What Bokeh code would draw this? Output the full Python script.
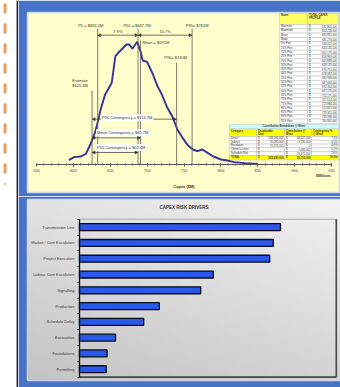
import numpy as np
from bokeh.plotting import figure
from bokeh.layouts import row, column
from bokeh.models import Range1d, Label, Arrow, NormalHead, FixedTicker
from bokeh.core.properties import value
from bokeh.embed import file_html
from bokeh.resources import INLINE

FONT = "Liberation Sans"
BLUE = "#4874c6"
CREAM = "#ffffcc"
INK = "#333333"

# ---------------- Capex simulation results ----------------
capex_m = [594, 601, 610, 617, 623, 630, 637, 643, 647, 652, 657, 664, 672, 676,
           680, 686.5, 691, 694, 700, 708, 714, 720, 727, 734, 741, 748, 755,
           762, 768, 775, 782, 790, 800, 809, 818, 832, 850]
freq_pct = [0.13, 0.22, 0.24, 0.32, 0.60, 1.00, 1.65, 2.10, 2.25, 2.45, 3.25, 3.42,
            3.60, 3.60, 3.47, 3.68, 3.40, 3.12, 3.08, 2.70, 2.35, 2.10, 1.72, 1.45,
            1.05, 0.80, 0.58, 0.45, 0.40, 0.45, 0.35, 0.24, 0.15, 0.12, 0.07, 0.04, 0.02]

estimate_m = 625.3
p5_m, p50_m, mean_m, p90_m, p95_m = 633.0, 687.7, 691.0, 740.0, 761.0
spread_labels = ["7.9%", "10.7%"]
contingency_labels = ["P90 Contingency = $114.7M",
                      "Mean Contingency = $65.7M",
                      "P50 Contingency = $62.4M"]
contingency_targets = [p90_m, mean_m, p50_m]

stat_names = ["Minimum", "Maximum", "Mean", "Mode"] + [f"{q}% Perc" for q in range(5, 100, 5)]
stat_values = [592805000, 854226000, 690961000, 681274000,
               633022000, 644535000, 652175000, 658963000, 663889000, 669131000,
               673752000, 678082000, 682946000, 687663000, 692304000, 697176000,
               702175000, 707514000, 713884000, 720825000, 729351000, 739996000,
               760941000]

breakdown_categories = ["Direct", "Indirect", "Escalation", "Owner's Costs", "Schedule Risk"]
escalatable_cost = [538436000, 31280000, 55574000, None, None]
contribution_mean = [44627000, 3131000, 0, 1481000, 16471000]
contingency_pct = ["7.1%", "0.5%", "0.0%", "0.2%", "2.6%"]
total_cost, total_contribution, total_pct = 625290000, 65710000, "10.5%"

# ---------------- Risk drivers ----------------
drivers = ["Transmission Line", "Market / Cost Escalation", "Project Execution",
           "Labour Cost Escalation", "Signalling", "Production", "Schedule Delay",
           "Excavation", "Foundations", "Permitting"]
impact = [33.5, 32.3, 31.7, 22.3, 20.2, 13.3, 10.7, 6.0, 4.6, 4.45]


def money(v):
    return "" if v is None else f"{v:,.0f}"


# ---------------- left margin strip ----------------
strip = figure(width=18, height=387, x_range=Range1d(0, 18), y_range=Range1d(0, 387),
               x_axis_type=None, y_axis_type=None, min_border=0,
               output_backend="svg", toolbar_location=None,
               background_fill_color="white", border_fill_color="white",
               outline_line_color=None)
strip.grid.visible = False
strip.line(x=[4.5, 4.5], y=[384, 203], line_color="#f39c5a", line_width=3,
           line_dash="10 10")
strip.line(x=[16.8, 16.8], y=[0, 387], line_color="#1c1c1c", line_width=1.4)

# ---------------- top panel: capex distribution ----------------
SX = 0.7375          # px per $M
SY = 0.03            # % per px
x_lo = 550 - 9 / SX
top = figure(width=322, height=196,
             x_range=Range1d(x_lo, x_lo + 313 / SX),
             y_range=Range1d(-28 * SY, 152 * SY),
             y_axis_type=None, output_backend="svg", toolbar_location=None,
             min_border_left=9, min_border_right=0, min_border_top=12,
             min_border_bottom=4, background_fill_color=CREAM,
             border_fill_color=BLUE, outline_line_color="#c9d7ef",
             outline_line_width=1.5)
top.grid.visible = False

ax = top.xaxis[0]
ax.fixed_location = 0
ax.bounds = (550, 950)
ax.ticker = FixedTicker(ticks=list(range(550, 951, 50)),
                        minor_ticks=list(range(550, 951, 10)))
ax.axis_line_color = "#555555"
ax.major_tick_line_color = "#555555"
ax.minor_tick_line_color = "#555555"
ax.major_tick_out = 2
ax.major_tick_in = 1
ax.minor_tick_out = 1
ax.minor_tick_in = 1
ax.major_label_text_font = FONT
ax.major_label_text_font_size = "4px"
ax.major_label_text_color = "#444444"
ax.major_label_standoff = 2
ax.axis_label = "Capex ($M)"
ax.axis_label_text_font = FONT
ax.axis_label_text_font_size = "4px"
ax.axis_label_text_font_style = "bold"
ax.axis_label_text_color = INK
ax.axis_label_standoff = 9


def tx(px):
    return x_lo + (px - 27) / SX


def ty(py):
    return (164 - py) * SY


top.text(x=[tx(323)], y=[ty(175)], text=["$Millions"], text_font=value(FONT),
         text_font_size="3.5px", text_font_style="bold", text_color=INK,
         text_align="center", text_baseline="middle")

# distribution curve
top.line(capex_m, freq_pct, line_color="#333399", line_width=1.9)

# marker lines
marker_x = [estimate_m, p5_m, p50_m, mean_m, p90_m, p95_m]
marker_top = [2.22, 4.07, 4.07, 3.72, 3.06, 4.07]
top.segment(x0=marker_x, y0=[0] * 6, x1=marker_x, y1=marker_top,
            line_color="#5a5a5a", line_width=0.8)

txt = dict(text_font=value(FONT), text_font_size="4px", text_color=INK,
           text_baseline="middle")
top.text(x=[p5_m], y=[4.16], text=["P5 = $633.0M"], x_offset=-7, text_align="center", **txt)
top.text(x=[p50_m], y=[4.16], text=["P50 = $687.7M"], x_offset=-1, text_align="center", **txt)
top.text(x=[p95_m], y=[4.16], text=["P95= $761M"], x_offset=5, text_align="center", **txt)
top.text(x=[mean_m], y=[3.66], text=["Mean = $691M"], x_offset=2, text_align="left", **txt)
top.text(x=[p90_m], y=[3.20], text=["P90= $740M"], x_offset=-1, text_align="center", **txt)
top.text(x=[estimate_m, estimate_m], y=[2.52, 2.38], text=["Estimate", "$625.3M"],
         x_offset=-12, text_align="center", **txt)

head = dict(size=3, line_width=0.5, line_color="#333333", fill_color="#333333")
for a, b in [(p5_m, p50_m), (p50_m, p95_m)]:
    top.add_layout(Arrow(x_start=a, y_start=3.88, x_end=b, y_end=3.88,
                         start=NormalHead(**head), end=NormalHead(**head),
                         line_width=0.7, line_color="#333333"))
top.text(x=[(p5_m + p50_m) / 2, (p50_m + p95_m) / 2], y=[3.93, 3.93],
         text=spread_labels, text_align="center",
         **{**txt, "text_baseline": "bottom"})

cont_y = [1.36, 0.80, 0.36]
cont_dx = [9, 4, 4]
cont_dy = [1.5, 5, 5]
for lab, tgt, h, dx, dy in zip(contingency_labels, contingency_targets, cont_y, cont_dx, cont_dy):
    top.add_layout(Arrow(x_start=estimate_m, y_start=h, x_end=tgt, y_end=h,
                         start=NormalHead(**head), end=NormalHead(**head),
                         line_width=0.7, line_color="#333333"))
    top.add_layout(Label(x=estimate_m, y=h, x_offset=dx, y_offset=dy, text=lab,
                         text_font=FONT, text_font_size="4px", text_color=INK,
                         text_align="left", text_baseline="middle",
                         background_fill_color="white", background_fill_alpha=0.95,
                         padding=1))

# percentile table
cell = dict(line_color="#b8b8b8", line_width=0.5)
small = dict(text_font=value(FONT), text_font_size="2.7px", text_color=INK,
             text_baseline="middle")
top.quad(left=[tx(279), tx(307)], right=[tx(307), tx(338)], top=ty(13), bottom=ty(24),
         fill_color="#ffff66", **cell)
top.text(x=[tx(280.5)], y=[ty(15.5)], text=["Name"], text_font_style="bold", **small)
top.text(x=[tx(308.5), tx(308.5)], y=[ty(15.5), ty(18.5)], text=["TOTAL CAPEX", "PROFILE"],
         text_font_style="bold", **small)
rh = 4.3
row_t = [24 + i * rh for i in range(len(stat_names))]
top.quad(left=[tx(279)] * len(row_t) + [tx(307)] * len(row_t),
         right=[tx(307)] * len(row_t) + [tx(338)] * len(row_t),
         top=[ty(t) for t in row_t] * 2, bottom=[ty(t + rh) for t in row_t] * 2,
         fill_color="white", **cell)
mid = [ty(t + rh / 2) for t in row_t]
top.text(x=[tx(280.5)] * len(mid), y=mid, text=stat_names, **small)
top.text(x=[tx(308.5)] * len(mid), y=mid, text=["$"] * len(mid), **small)
top.text(x=[tx(336.5)] * len(mid), y=mid, text=[money(v) for v in stat_values],
         text_align="right", **small)

# contribution breakdown table
cols = [229, 256, 284, 311, 338]
top.quad(left=tx(229), right=tx(338), top=ty(124), bottom=ty(128.5),
         fill_color="#ccffff", **cell)
top.text(x=[tx(283.5)], y=[ty(126.3)], text=["Contribution Breakdown @ Mean"],
         text_align="center", text_font_style="bold", **small)
top.quad(left=[tx(c) for c in cols[:-1]], right=[tx(c) for c in cols[1:]],
         top=ty(128.5), bottom=ty(136), fill_color="#ffff00", **cell)
heads = [["Category", ""], ["Escalatable", "Cost"], ["Contribution @", "Mean"],
         ["Contingency %", "@ Mean"]]
for c, (l1, l2) in zip(cols, heads):
    top.text(x=[tx(c + 1.5)] * 2, y=[ty(130.6), ty(133.6)], text=[l1, l2],
             text_font_style="bold", **small)
brh = 3.8
for i, cat in enumerate(breakdown_categories):
    t = 136 + i * brh
    top.quad(left=[tx(c) for c in cols[:-1]], right=[tx(c) for c in cols[1:]],
             top=ty(t), bottom=ty(t + brh), fill_color="white", **cell)
    ym = ty(t + brh / 2)
    top.text(x=[tx(230.5)], y=[ym], text=[cat], **small)
    top.text(x=[tx(257.5), tx(285.5)], y=[ym, ym], text=["$", "$"], **small)
    top.text(x=[tx(283), tx(310), tx(337)], y=[ym] * 3,
             text=[money(escalatable_cost[i]), money(contribution_mean[i]), contingency_pct[i]],
             text_align="right", **small)
t = 136 + len(breakdown_categories) * brh
top.quad(left=[tx(c) for c in cols[:-1]], right=[tx(c) for c in cols[1:]],
         top=ty(t), bottom=ty(t + 4.5), fill_color="#ffff00", **cell)
ym = ty(t + 2.25)
top.text(x=[tx(230.5)], y=[ym], text=["TOTAL"], text_font_style="bold", **small)
top.text(x=[tx(257.5), tx(285.5)], y=[ym, ym], text=["$", "$"], text_font_style="bold", **small)
top.text(x=[tx(283), tx(310), tx(337)], y=[ym] * 3,
         text=[money(total_cost), money(total_contribution), total_pct],
         text_align="right", text_font_style="bold", **small)

# ---------------- bottom panel: risk drivers ----------------
SXB = 6.0     # px per unit of impact
SYB = 15.78   # px per category
bx_lo = -(79 - 27) / SXB
by_lo = 1 - (380 - 368.7) / SYB
bot = figure(width=322, height=191,
             x_range=Range1d(bx_lo, bx_lo + 313 / SXB),
             y_range=Range1d(by_lo, by_lo + 181 / SYB),
             x_axis_type=None, output_backend="svg", toolbar_location=None,
             min_border_left=9, min_border_right=0, min_border_top=3,
             min_border_bottom=7, background_fill_color="#d4d4d4",
             border_fill_color=BLUE, outline_line_color="#c9d7ef",
             outline_line_width=1.5)
bot.grid.visible = False

# soft grey gradient behind the chart
ny, nx = 40, 80
gy = np.linspace(0, 1, ny)[:, None]
gx = np.linspace(0, 1, nx)[None, :]
grey = np.clip(196 + 30 * gy + 16 * gx, 0, 255).astype(np.uint8)
img = np.empty((ny, nx), dtype=np.uint32)
view = img.view(dtype=np.uint8).reshape((ny, nx, 4))
view[..., 0] = grey
view[..., 1] = grey
view[..., 2] = grey
view[..., 3] = 255
bot.image_rgba(image=[img], x=bot.x_range.start, y=bot.y_range.start,
               dw=bot.x_range.end - bot.x_range.start,
               dh=bot.y_range.end - bot.y_range.start)

n = len(drivers)
ypos = list(range(n, 0, -1))
x_max = 42.8
bot.quad(left=0, right=x_max, bottom=0.5, top=n + 0.5, fill_alpha=0,
         line_color="#9a9a9a", line_width=0.8)
bot.segment(x0=[x_max, 0], y0=[0.5, 0.5], x1=[x_max, x_max], y1=[n + 0.5, 0.5],
            line_color="#4a4a4a", line_width=1.6)

bot.hbar(y=ypos, left=0, right=impact, height=0.44, fill_color="#2a58ea",
         line_color="#0a0a1a", line_width=1.3)

yax = bot.yaxis[0]
yax.fixed_location = 0
yax.bounds = (0.5, n + 0.5)
yax.ticker = FixedTicker(ticks=ypos, minor_ticks=[k + 0.5 for k in range(0, n + 1)])
yax.major_label_overrides = {p: name for p, name in zip(ypos, drivers)}
yax.major_tick_out = 0
yax.major_tick_in = 0
yax.minor_tick_out = 2
yax.minor_tick_in = 0
yax.minor_tick_line_color = "#111111"
yax.axis_line_color = "#111111"
yax.axis_line_width = 1.3
yax.major_label_text_font = FONT
yax.major_label_text_font_size = "4px"
yax.major_label_text_color = "#3a3a3a"
yax.major_label_standoff = 3

bot.text(x=[(bot.x_range.start + bot.x_range.end) / 2], y=[11.25],
         text=["CAPEX RISK DRIVERS"], text_font=value(FONT), text_font_size="4.5px",
         text_font_style="bold", text_color="#333333", text_align="center",
         text_baseline="middle")

layout = row(strip, column(top, bot))
open("out.html", "w").write(file_html(layout, INLINE))
